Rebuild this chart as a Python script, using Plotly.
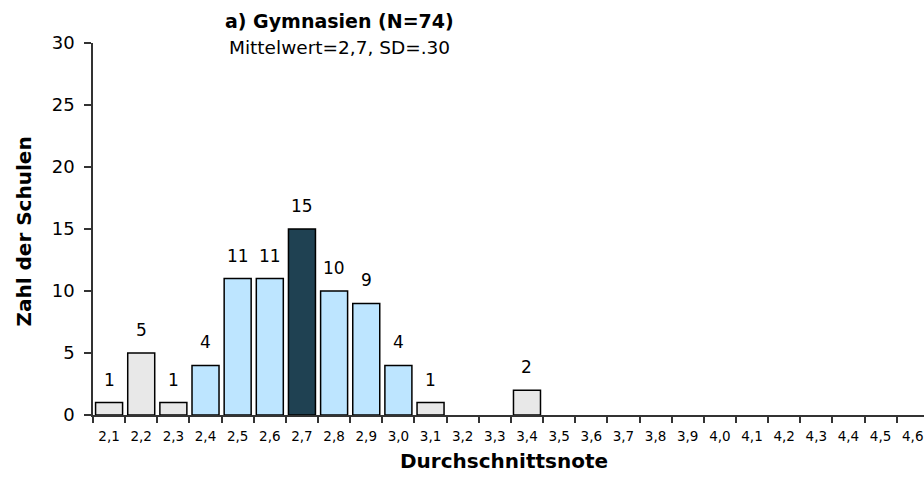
import plotly.graph_objects as go

categories = ["2,1", "2,2", "2,3", "2,4", "2,5", "2,6", "2,7", "2,8", "2,9", "3,0",
              "3,1", "3,2", "3,3", "3,4", "3,5", "3,6", "3,7", "3,8", "3,9", "4,0",
              "4,1", "4,2", "4,3", "4,4", "4,5", "4,6"]
counts = [1, 5, 1, 4, 11, 11, 15, 10, 9, 4, 1, 0, 0, 2, 0, 0, 0, 0, 0, 0, 0, 0, 0, 0, 0, 0]
groups = ["rand", "rand", "rand", "mitte", "mitte", "mitte", "mittelwert", "mitte", "mitte", "mitte",
          "rand", "rand", "rand", "rand", "rand", "rand", "rand", "rand", "rand", "rand",
          "rand", "rand", "rand", "rand", "rand", "rand"]
group_colors = {"rand": "#E8E8E8", "mitte": "#BDE5FF", "mittelwert": "#1F4152"}
y_ticks = [0, 5, 10, 15, 20, 25, 30]

title = "a) Gymnasien (N=74)"
subtitle = "Mittelwert=2,7, SD=.30"
x_title = "Durchschnittsnote"
y_title = "Zahl der Schulen"

# the page's body margin is removed (post_script), so figure pixels == page pixels
W, H = 924, 487
L, T = 92.5, 43
PLOT_BOTTOM = 415
R, B = 0, H - PLOT_BOTTOM
pw = W - L - R
ph = H - T - B

def px(page_x):
    return (page_x - L) / pw

def py(page_y):
    return (PLOT_BOTTOM - page_y) / ph

font = "DejaVu Sans, Verdana, sans-serif"

fig = go.Figure()
fig.add_trace(go.Bar(
    x=categories, y=counts,
    marker=dict(color=[group_colors[g] for g in groups],
                line=dict(color="black", width=[1.5 if v > 0 else 0 for v in counts])),
    width=0.84,
    hoverinfo="x+y",
))

annotations = []
for c, v in zip(categories, counts):
    if v > 0:
        annotations.append(dict(x=c, y=v, text=str(v), showarrow=False, yshift=23,
                                yanchor="middle", xanchor="center",
                                font=dict(size=17, color="black", family=font)))

annotations += [
    dict(xref="paper", yref="paper", x=px(339), y=py(21), text="<b>" + title + "</b>",
         showarrow=False, xanchor="center", yanchor="middle", font=dict(size=19, family=font, color="black")),
    dict(xref="paper", yref="paper", x=px(339), y=py(48), text=subtitle,
         showarrow=False, xanchor="center", yanchor="middle", font=dict(size=18.5, family=font, color="black")),
    dict(xref="paper", yref="paper", x=px(504), y=py(461), text="<b>" + x_title + "</b>",
         showarrow=False, xanchor="center", yanchor="middle", font=dict(size=20, family=font, color="black")),
    dict(xref="paper", yref="paper", x=px(23), y=py(232), text="<b>" + y_title + "</b>", textangle=-90,
         showarrow=False, xanchor="center", yanchor="middle", font=dict(size=20, family=font, color="black")),
]

fig.update_layout(
    width=W, height=H,
    margin=dict(l=L, r=R, t=T, b=B, pad=0),
    paper_bgcolor="white", plot_bgcolor="white",
    showlegend=False,
    font=dict(family=font, color="black"),
    annotations=annotations,
)
fig.update_xaxes(type="category", range=[-0.5, 25.35], showline=True, linecolor="#333333", linewidth=1.5,
                 ticks="outside", tickson="boundaries", ticklen=6, tickcolor="#333333", tickwidth=1.5,
                 tickfont=dict(size=13.5, family=font), ticklabelstandoff=8,
                 showgrid=False, zeroline=False, tickangle=0)
fig.update_yaxes(range=[0, 30], tickvals=y_ticks, showline=True, linecolor="#333333",
                 linewidth=1.5, ticks="outside", ticklen=7, tickcolor="#333333", tickwidth=1.5,
                 tickfont=dict(size=18, family=font), ticklabelstandoff=6,
                 showgrid=False, zeroline=False)

fig.write_html("out.html",
               config={"displayModeBar": False},
               post_script="document.body.style.margin='0';document.body.style.overflow='hidden';")
